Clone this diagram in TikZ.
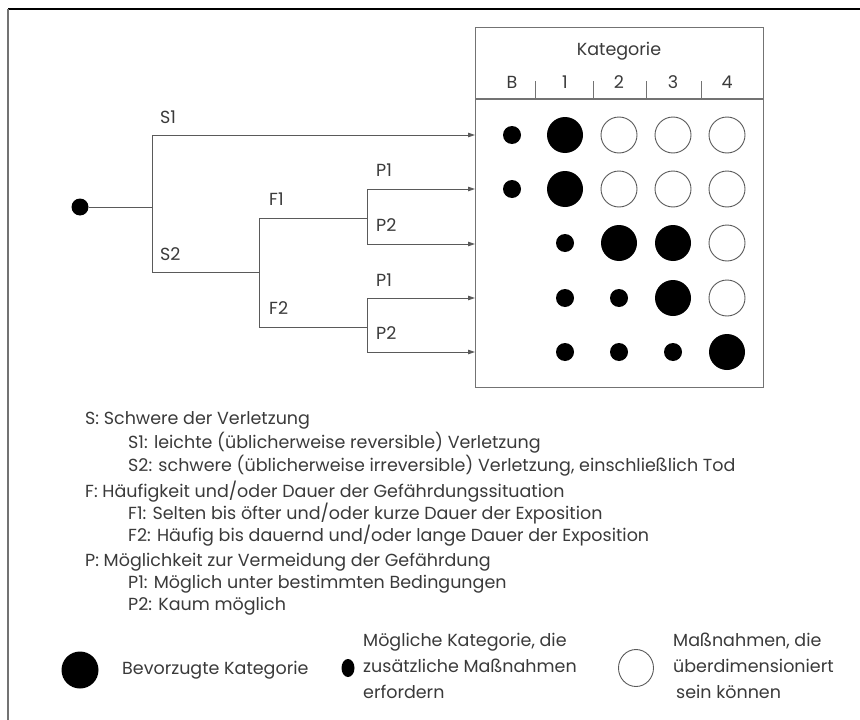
\documentclass[tikz,border=0pt]{standalone}
\usepackage{fontspec}
\setmainfont{Poppins}
\usetikzlibrary{arrows.meta,shapes.geometric}
\definecolor{ink}{HTML}{3A3A3A}
\definecolor{wire}{HTML}{5A5A5A}
\begin{document}
\begin{tikzpicture}[x=1pt,y=-1pt,
  wireline/.style={draw=wire, line width=0.9pt},
  arr/.style={wireline, -{Triangle[length=7pt,width=4.5pt]}},
  bigdot/.style={circle, fill=black, minimum size=36pt, inner sep=0pt},
  smalldot/.style={circle, fill=black, minimum size=18pt, inner sep=0pt},
  opendot/.style={circle, draw=wire, line width=0.9pt, fill=white, minimum size=36pt, inner sep=0pt},
  txt/.style={font=\fontsize{17.5}{21}\selectfont, text=ink, inner sep=0pt},
  lbl/.style={txt, anchor=west},
  multi/.style={txt, anchor=west, align=left, font=\fontsize{17.5}{26}\selectfont}
]
\useasboundingbox (0,0) rectangle (860,720);
% outer frame (top and left only)
\draw[black, line width=1.3pt] (8,9) -- (860,9);
\draw[black!55, line width=1.3pt] (8,9) -- (8,720);

% category box
\node[draw=black!55, line width=1.2pt, minimum width=288pt, minimum height=360pt,
      anchor=north west, inner sep=0pt] (box) at (475,27) {};
\coordinate (hl) at (475,99);
\coordinate (hr) at (763,99);
\draw[draw=black!55, line width=1.1pt] (hl) -- (hr);
\node[txt] (kat) at (619,51) {Kategorie};
\foreach \x/\n in {535/t1,593/t2,646/t3,701/t4}{
  \coordinate (\n a) at (\x,81);
  \coordinate (\n b) at (\x,99);
  \draw[draw=black!55, line width=1pt] (\n a) -- (\n b);
}
\node[txt] (cB) at (512,82) {B};
\node[txt] (c1) at (565,82) {1};
\node[txt] (c2) at (619,82) {2};
\node[txt] (c3) at (673,82) {3};
\node[txt] (c4) at (727,82) {4};

% circle matrix
% row 1
\node[smalldot] (r1B) at (512,135) {};
\node[bigdot]   (r1a) at (565,135) {};
\node[opendot]  (r1b) at (619,135) {};
\node[opendot]  (r1c) at (673,135) {};
\node[opendot]  (r1d) at (727,135) {};
% row 2
\node[smalldot] (r2B) at (512,189) {};
\node[bigdot]   (r2a) at (565,189) {};
\node[opendot]  (r2b) at (619,189) {};
\node[opendot]  (r2c) at (673,189) {};
\node[opendot]  (r2d) at (727,189) {};
% row 3
\node[smalldot] (r3a) at (565,243) {};
\node[bigdot]   (r3b) at (619,243) {};
\node[bigdot]   (r3c) at (673,243) {};
\node[opendot]  (r3d) at (727,243) {};
% row 4
\node[smalldot] (r4a) at (565,298) {};
\node[smalldot] (r4b) at (619,298) {};
\node[bigdot]   (r4c) at (673,298) {};
\node[opendot]  (r4d) at (727,298) {};
% row 5
\node[smalldot] (r5a) at (565,352) {};
\node[smalldot] (r5b) at (619,352) {};
\node[smalldot] (r5c) at (673,352) {};
\node[bigdot]   (r5d) at (727,352) {};

% decision tree
\node[circle, fill=black, minimum size=17pt, inner sep=0pt] (start) at (80,207) {};
\coordinate (j0) at (152,207);
\coordinate (s1) at (152,135);
\coordinate (s2) at (152,272);
\coordinate (f0) at (259,272);
\coordinate (f1) at (259,218);
\coordinate (f2) at (259,327);
\coordinate (p10) at (367,218);
\coordinate (p11) at (367,189);
\coordinate (p12) at (367,244);
\coordinate (p20) at (367,327);
\coordinate (p21) at (367,298);
\coordinate (p22) at (367,352);
\coordinate (e1) at (475,135);
\coordinate (e2) at (475,189);
\coordinate (e3) at (475,244);
\coordinate (e4) at (475,298);
\coordinate (e5) at (475,352);

\draw[wireline] (start) -- (j0);
\draw[wireline] (s1) -- (s2);
\draw[wireline] (s2) -- (f0);
\draw[wireline] (f1) -- (f2);
\draw[wireline] (f1) -- (p10);
\draw[wireline] (p11) -- (p12);
\draw[wireline] (f2) -- (p20);
\draw[wireline] (p21) -- (p22);
\draw[arr] (s1) -- (e1);
\draw[arr] (p11) -- (e2);
\draw[arr] (p12) -- (e3);
\draw[arr] (p21) -- (e4);
\draw[arr] (p22) -- (e5);

\node[lbl] (lS1) at (160,117) {S1};
\node[lbl] (lS2) at (160,254) {S2};
\node[lbl] (lF1) at (269,199) {F1};
\node[lbl] (lF2) at (269,308) {F2};
\node[lbl] (lP1a) at (376,170) {P1};
\node[lbl] (lP2a) at (376,225) {P2};
\node[lbl] (lP1b) at (376,280) {P1};
\node[lbl] (lP2b) at (376,333) {P2};

% explanation
\node[lbl] (tS)  at (85,420) {S: Schwere der Verletzung};
\node[lbl] (tS1) at (128,443) {S1: leichte (üblicherweise reversible) Verletzung};
\node[lbl] (tS2) at (128,466) {S2: schwere (üblicherweise irreversible) Verletzung, einschließlich Tod};
\node[lbl] (tF)  at (85,492) {F: Häufigkeit und/oder Dauer der Gefährdungssituation};
\node[lbl] (tF1) at (128,514) {F1: Selten bis öfter und/oder kurze Dauer der Exposition};
\node[lbl] (tF2) at (128,536) {F2: Häufig bis dauernd und/oder lange Dauer der Exposition};
\node[lbl] (tP)  at (85,562) {P: Möglichkeit zur Vermeidung der Gefährdung};
\node[lbl] (tP1) at (128,584) {P1: Möglich unter bestimmten Bedingungen};
\node[lbl] (tP2) at (128,606) {P2: Kaum möglich};

% legend
\node[circle, fill=black, minimum size=37pt, inner sep=0pt] (lgBig) at (80,670) {};
\node[lbl] (lgBigT) at (122,670) {Bevorzugte Kategorie};
\node[ellipse, fill=black, minimum width=13pt, minimum height=18pt, inner sep=0pt] (lgSmall) at (348,668) {};
\node[multi] (lgSmallT) at (363,666) {Mögliche Kategorie, die\\zusätzliche Maßnahmen\\erfordern};
\node[ellipse, draw=wire, line width=0.9pt, minimum width=35pt, minimum height=37pt, inner sep=0pt] (lgOpen) at (636,668) {};
\node[multi] (lgOpenT) at (673,666) {Maßnahmen, die\\überdimensioniert\\\hspace{3pt}sein können};
\end{tikzpicture}
\end{document}
